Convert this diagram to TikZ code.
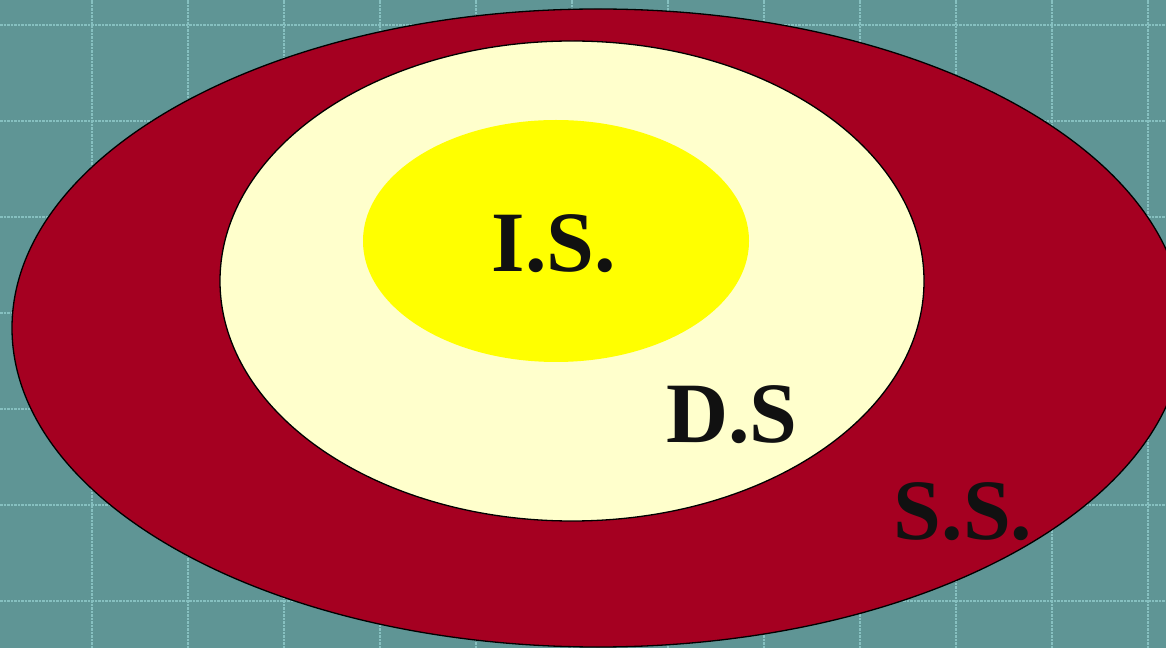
\documentclass[tikz,border=0pt]{standalone}
\usepackage{fontspec}
\setmainfont{Liberation Serif}
\definecolor{bgteal}{HTML}{5F9595}
\definecolor{gridc}{HTML}{86C0C0}
\definecolor{outerred}{HTML}{A50021}
\definecolor{cream}{HTML}{FFFFCC}
\definecolor{inneryel}{HTML}{FFFF00}
\definecolor{txt}{HTML}{111111}
\tikzset{
  gridline/.style={gridc, line width=2.2pt, dash pattern=on 2.5pt off 1pt},
  ring/.style={draw=black, line width=1.3pt},
  lbl/.style={font=\fontsize{86}{86}\selectfont\bfseries, text=txt, inner sep=0pt}
}
\begin{document}
\begin{tikzpicture}[x=1pt,y=1pt]
\useasboundingbox (0,0) rectangle (1166,648);
\fill[bgteal] (0,0) rectangle (1166,648);
\foreach \gx in {92,188,...,1148} \draw[gridline] (\gx,0) -- (\gx,648);
\foreach \gy in {25,121,...,601} \draw[gridline] (0,648-\gy) -- (1166,648-\gy);
\begin{scope}
\clip (0,0) rectangle (1166,648);
\coordinate (ss) at (598,648-328);
\fill[outerred, ring] (ss) ellipse [x radius=586, y radius=319];
\end{scope}
\coordinate (ds) at (572,648-281);
\fill[cream, ring] (ds) ellipse [x radius=352, y radius=240];
\coordinate (is) at (556,648-241);
\fill[inneryel] (is) ellipse [x radius=193, y radius=121];
\node[lbl, anchor=base] (islbl) at (554,648-272) {I.S.};
\node[lbl, anchor=base] (dslbl) at (732,648-443) {D.S};
\node[lbl, anchor=base] (sslbl) at (963,648-539) {S.S.};
\end{tikzpicture}
\end{document}
